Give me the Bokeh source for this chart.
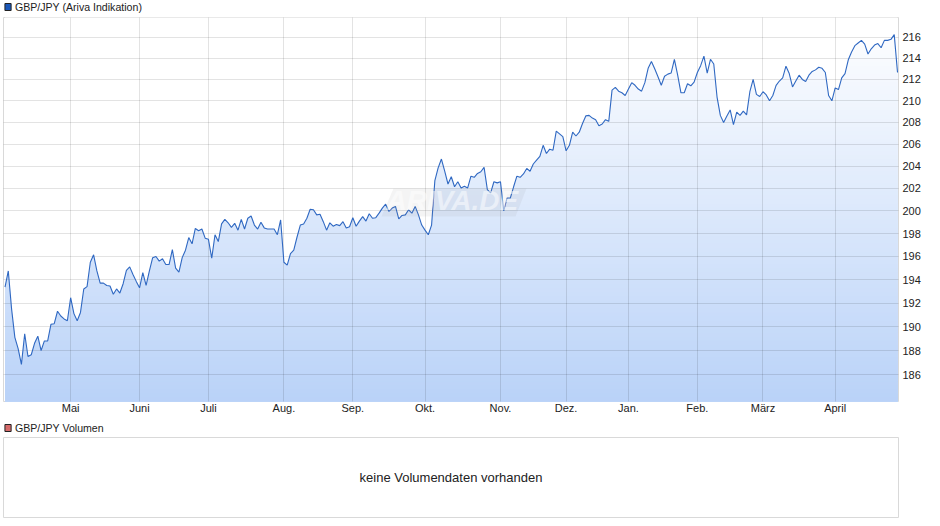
from bokeh.plotting import figure
from bokeh.layouts import column
from bokeh.models import Range1d, FixedTicker, NumeralTickFormatter, Label, PolyAnnotation
from bokeh.core.properties import value
from bokeh.embed import file_html
from bokeh.resources import INLINE
import numpy as np

title_main = "GBP/JPY (Ariva Indikation)"
title_volume = "GBP/JPY Volumen"
no_volume = "keine Volumendaten vorhanden"
month_labels = ["Mai", "Juni", "Juli", "Aug.", "Sep.", "Okt.", "Nov.", "Dez.", "Jan.", "Feb.", "März", "April"]
month_index = [20, 41, 62, 85, 106, 128, 151, 171, 190, 211, 231, 253]
price_ticks = [186, 188, 190, 192, 194, 196, 198, 200, 202, 204, 206, 208, 210, 212, 214, 216]

prices_a = [193.35, 194.75, 191.5, 189.1, 188.15, 186.85, 189.4, 187.5, 187.65, 188.6, 189.2, 188.0, 188.8, 188.8,
            190.2, 190.25, 191.3, 190.9, 190.65, 190.5, 192.45, 191.1, 190.5, 191.2, 193.2, 193.4, 195.5, 196.15,
            194.75, 193.7, 193.7, 193.5, 193.45, 192.75, 193.2, 192.85, 193.65, 194.8, 195.1, 194.45, 193.85,
            193.3, 194.6, 193.5, 194.75]
prices_b = [195.9, 196.0, 195.6, 195.8, 195.3, 195.3, 196.6, 195.0, 194.65, 195.9, 196.55, 197.65, 197.1, 198.45,
            198.25, 198.4, 197.6, 197.5, 195.85, 197.9, 197.3, 198.85, 199.25, 198.95, 198.55, 198.9, 198.3,
            199.25, 198.4, 199.35, 199.55, 198.75, 198.4, 199.0, 198.5, 198.4, 198.4, 198.4, 197.9, 199.2, 195.5,
            195.25, 196.25, 196.55, 197.7, 198.75]
prices_c = [198.85, 199.35, 200.15, 200.1, 199.65, 199.7, 199.05, 198.3, 198.95, 198.65, 198.8, 198.7, 199.05,
            198.5, 198.6, 199.4, 198.65, 199.1, 199.5, 199.1, 199.75, 199.35, 199.4, 199.8, 200.25, 200.6, 199.95,
            200.25, 200.4, 199.3, 199.6, 199.65, 200.1, 199.8, 200.4, 199.65, 198.75, 198.3, 197.9, 198.75, 202.7,
            203.85, 204.65, 203.55, 202.4]
prices_d = [203.05, 202.15, 202.6, 202.05, 202.2, 202.05, 203.1, 203.0, 203.35, 203.5, 203.9, 201.9, 201.6, 202.6,
            202.5, 202.6, 200.0, 201.15, 201.15, 202.15, 203.1, 203.0, 203.3, 203.8, 203.55, 204.2]
prices_e = [204.55, 204.9, 205.9, 205.15, 205.55, 205.45, 207.2, 206.95, 206.7, 205.4, 205.9, 207.1, 206.75, 207.1,
            207.9, 208.6, 208.65, 208.4, 208.25, 207.7]
prices_f = [207.85, 208.25, 208.1, 211.0, 211.25, 210.9, 210.75, 210.5, 211.1, 211.7, 211.45, 211.1, 210.9, 211.7,
            213.05, 213.7, 213.0, 212.25, 211.45, 212.3, 212.5, 212.6, 213.9, 212.4, 210.75, 210.75, 211.6, 211.4,
            211.75, 212.65, 213.3, 214.2, 212.6, 213.9, 213.45, 210.35, 208.65, 208.0, 208.6, 209.15, 207.8,
            208.95, 208.65, 209.05, 208.7, 210.85]
prices_g = [212.0, 210.6, 210.4, 210.85, 210.55, 210.0, 210.5, 211.45, 211.85, 212.15, 213.25, 212.55, 211.3,
            211.85, 212.4, 212.0, 211.8, 212.4, 212.75, 212.9, 213.15, 213.05, 212.65, 210.5, 210.0, 211.2, 211.05,
            212.15, 212.55, 213.85, 214.6, 215.2, 215.45, 215.7, 215.35, 214.4, 214.9, 215.25, 215.4, 215.0, 215.7,
            215.7, 215.8, 216.25, 212.65]

prices = np.array(prices_a + prices_b + prices_c + prices_d + prices_e + prices_f + prices_g)
idx = np.arange(len(prices))
last = len(prices) - 1
y_low, y_high = 183.8, 217.9
FONT = "Liberation Sans"


def header(text, color, height, y_mid):
    h = figure(width=940, height=height, output_backend="svg", toolbar_location=None,
               x_range=Range1d(0, 940), y_range=Range1d(height, 0), x_axis_location=None, y_axis_location=None,
               min_border_left=0, min_border_right=0, min_border_top=0, min_border_bottom=0,
               background_fill_color="white", outline_line_color=None)
    h.grid.visible = False
    h.quad(left=1.5, right=8, top=y_mid - 3.5, bottom=y_mid + 3.5, fill_color=color, line_color="#222222",
           line_width=1)
    h.text(x=[12], y=[y_mid], text=[text], text_font=value(FONT), text_font_size="10.6px", text_color="#222222",
           text_baseline="middle")
    return h


head_main = header(title_main, "#1a57b8", 16, 6.5)

p = figure(width=940, height=402, output_backend="svg", toolbar_location=None, y_axis_type="log",
           x_range=Range1d(-0.46, last + 0.3), y_range=Range1d(y_low, y_high), y_axis_location="right",
           min_border_left=3, min_border_right=42, min_border_top=1, min_border_bottom=17,
           background_fill_color="white", outline_line_color="#d9d9d9", outline_line_width=1)

# vertical gradient below the line: painted top to bottom, then masked above the line
n_bands = 96
edges = np.geomspace(y_high, y_low, n_bands)
t = np.linspace(0, 1, n_bands)
top_rgb, bottom_rgb = np.array([255, 255, 255]), np.array([185, 210, 248])
band_colors = ["#%02x%02x%02x" % tuple(np.round(top_rgb + (bottom_rgb - top_rgb) * v).astype(int)) for v in t]
p.quad(left=0, right=last, top=edges, bottom=y_low, fill_color=band_colors, line_color=None)
p.varea(x=idx, y1=prices, y2=y_high, fill_color="white")

mark = PolyAnnotation(xs=[390, 523, 512, 378], ys=[213, 213, 185, 185], xs_units="screen", ys_units="screen",
                      fill_color="#808080", fill_alpha=0.09, line_color=None)
p.add_layout(mark)
p.add_layout(Label(x=383, y=186, x_units="screen", y_units="screen", text="ARIVA.DE", text_font=FONT,
                   text_font_size="28px", text_font_style="bold italic", text_color="white", text_alpha=0.5))

line = p.line(idx, prices, line_color="#2f68c2", line_width=1.1)
line.level = "annotation"

xa = p.xaxis[0]
xa.ticker = FixedTicker(ticks=month_index)
xa.major_label_overrides = dict(zip(month_index, month_labels))
xa.axis_line_color = None
xa.major_tick_line_color = None
xa.minor_tick_line_color = None
xa.major_tick_out = 0
xa.major_tick_in = 0
xa.minor_tick_out = 0
xa.minor_tick_in = 0
xa.major_label_standoff = 0
xa.major_label_text_font = FONT
xa.major_label_text_font_size = "11px"
xa.major_label_text_color = "#222222"

ya = p.yaxis[0]
ya.ticker = FixedTicker(ticks=price_ticks)
ya.formatter = NumeralTickFormatter(format="0")
ya.axis_line_color = None
ya.major_tick_line_color = None
ya.minor_tick_line_color = None
ya.major_tick_out = 0
ya.major_tick_in = 0
ya.minor_tick_out = 0
ya.minor_tick_in = 0
ya.major_label_standoff = 4
ya.major_label_text_font = FONT
ya.major_label_text_font_size = "11px"
ya.major_label_text_color = "#222222"

for g in (p.xgrid[0], p.ygrid[0]):
    g.grid_line_color = "#000000"
    g.grid_line_alpha = 0.11
    g.grid_line_width = 1
    g.level = "guide"

head_volume = header(title_volume, "#d66a6a", 18, 9.5)

q = figure(width=940, height=90, output_backend="svg", toolbar_location=None,
           x_range=Range1d(0, 1), y_range=Range1d(0, 1), x_axis_location=None, y_axis_location=None,
           min_border_left=3, min_border_right=42, min_border_top=1, min_border_bottom=9,
           background_fill_color="white", outline_line_color="#d9d9d9", outline_line_width=1)
q.grid.visible = False
q.add_layout(Label(x=0.5, y=0.5, text=no_volume, text_font=FONT, text_font_size="13px", text_color="#222222",
                   text_align="center", text_baseline="middle"))

root = column(head_main, p, head_volume, q, spacing=0)
open("out.html", "w").write(file_html(root, INLINE))
